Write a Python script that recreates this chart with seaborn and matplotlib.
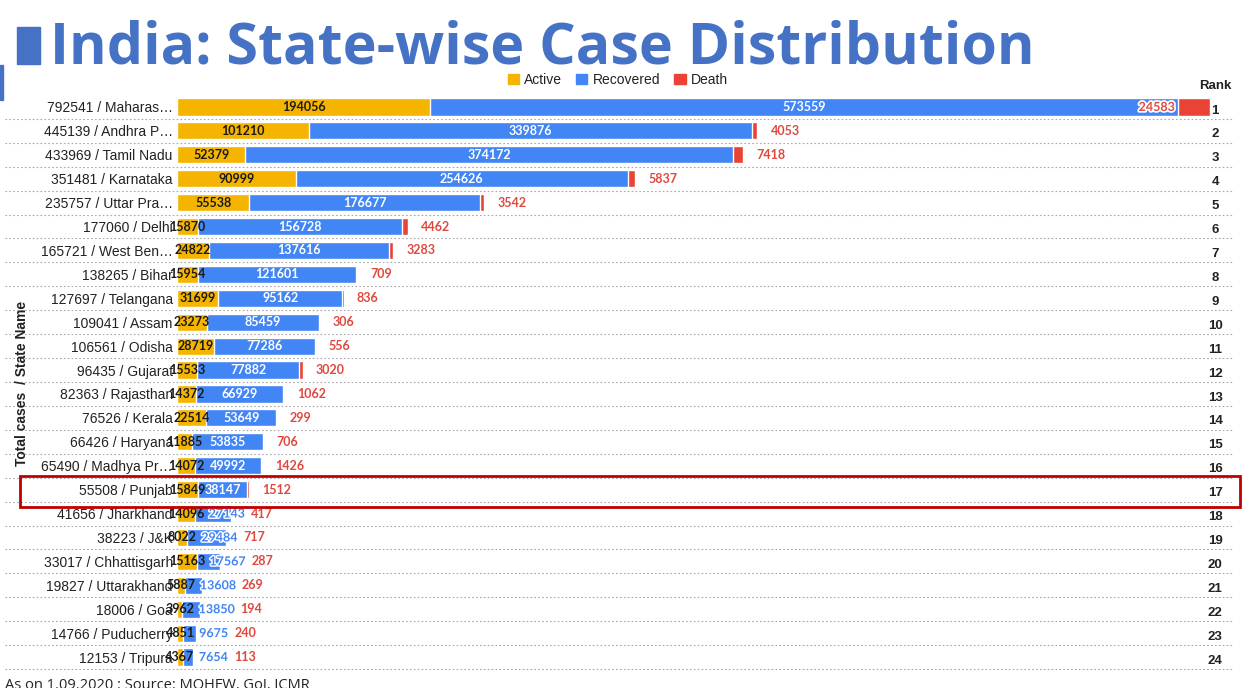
import matplotlib
matplotlib.use("Agg")
import matplotlib.pyplot as plt
import matplotlib.patheffects as pe
import seaborn as sns
import pandas as pd
from matplotlib.patches import Patch, Rectangle

# values (as on 1.09.2020)
ranks = list(range(1, 25))
total_cases = [792541, 445139, 433969, 351481, 235757, 177060, 165721, 138265,
               127697, 109041, 106561, 96435, 82363, 76526, 66426, 65490,
               55508, 41656, 38223, 33017, 19827, 18006, 14766, 12153]
state_names = ["Maharas\u2026", "Andhra P\u2026", "Tamil Nadu", "Karnataka",
               "Uttar Pra\u2026", "Delhi", "West Ben\u2026", "Bihar",
               "Telangana", "Assam", "Odisha", "Gujarat", "Rajasthan",
               "Kerala", "Haryana", "Madhya Pr\u2026", "Punjab", "Jharkhand",
               "J&K", "Chhattisgarh", "Uttarakhand", "Goa", "Puducherry",
               "Tripura"]
active = [194056, 101210, 52379, 90999, 55538, 15870, 24822, 15954, 31699,
          23273, 28719, 15533, 14372, 22514, 11885, 14072, 15849, 14096,
          8022, 15163, 5887, 3962, 4851, 4367]
recovered = [573559, 339876, 374172, 254626, 176677, 156728, 137616, 121601,
             95162, 85459, 77286, 77882, 66929, 53649, 53835, 49992, 38147,
             27143, 29484, 17567, 13608, 13850, 9675, 7654]
deaths = [24583, 4053, 7418, 5837, 3542, 4462, 3283, 709, 836, 306, 556,
          3020, 1062, 299, 706, 1426, 1512, 417, 717, 287, 269, 194, 240, 113]
highlight_state = "Punjab"

YELLOW = "#F4B400"
BLUE = "#4285F4"
RED = "#EA4335"
TITLE_BLUE = "#4672C6"
DEATH_TXT = "#E0483E"

df = pd.DataFrame({"total": total_cases, "state": state_names, "active": active,
                   "recovered": recovered, "deaths": deaths, "rank": ranks})
df["label"] = df["total"].astype(str) + " / " + df["state"]
df["act_rec"] = df["active"] + df["recovered"]
df["all"] = df["act_rec"] + df["deaths"]

W, H = 1249, 688
sns.set_theme(style="white")
plt.rcParams["font.family"] = ["Liberation Sans", "DejaVu Sans"]

fig = plt.figure(figsize=(W / 100, H / 100), dpi=100)
ax_left, ax_right, ax_top, ax_bot = 177, 1230, 95, 669
ax = fig.add_axes([ax_left / W, 1 - ax_bot / H, (ax_right - ax_left) / W,
                   (ax_bot - ax_top) / H])

# stacked bars: draw cumulative totals back to front
for col, c in [("all", RED), ("act_rec", BLUE), ("active", YELLOW)]:
    sns.barplot(data=df, y="label", x=col, color=c, saturation=1, width=0.72,
                errorbar=None, orient="h", ax=ax)

XMAX = 807500
ax.set_xlim(0, XMAX)
ax.set_ylim(23.5, -0.5)
px = (ax_right - ax_left) / XMAX  # pixels per case
sns.despine(ax=ax, left=True, bottom=True)
ax.set_xticks([])
ax.set_xlabel("")
ax.set_ylabel("")
ax.tick_params(axis="y", length=0, pad=3, labelsize=10, labelcolor="#222222")

# dotted row separators across the full width
ax.hlines([i + 0.5 for i in range(len(df))], -0.163, 1.003,
          transform=ax.get_yaxis_transform(), colors="#A8A8A8",
          linestyles=(0, (1.5, 2)), linewidth=0.8, clip_on=False, zorder=0)

lab = dict(fontsize=9, fontweight="bold", family=["Lato", "DejaVu Sans"],
           va="center")
digit_px = 7.0
for i, row in df.iterrows():
    a, r, d = row["active"], row["recovered"], row["deaths"]
    a_w = len(str(a)) * digit_px
    ax.text(a / 2, i, str(a), ha="center", color="#1a1a1a", **lab)
    r_w = len(str(r)) * digit_px
    if r * px > 45:
        ax.text(a + r / 2, i, str(r), ha="center", color="white", **lab)
        r_right = (a + r / 2) * px + r_w / 2
    else:
        r_left = max(a * px / 2 + a_w / 2 + 5, a * px + 3)
        ax.text(r_left / px, i, str(r), ha="left", color=BLUE,
                path_effects=[pe.withStroke(linewidth=2, foreground="white")],
                **lab)
        r_right = r_left + r_w
    end_px = (a + r + d) * px
    if end_px + 60 > ax_right - ax_left:
        ax.text(a + r - 3 / px, i, str(d), ha="right", color=DEATH_TXT,
                path_effects=[pe.withStroke(linewidth=2.5, foreground="white")],
                **lab)
    else:
        d_left = max(end_px + 13, r_right + 7)
        ax.text(d_left / px, i, str(d), ha="left", color=DEATH_TXT, **lab)
    ax.text(0.986, i + 0.15, str(row["rank"]), transform=ax.get_yaxis_transform(),
            ha="center", va="center", fontsize=9.5, fontweight="bold",
            color="#222222")

ax.text(0.986, -0.88, "Rank", transform=ax.get_yaxis_transform(), ha="center",
        va="center", fontsize=9.5, fontweight="bold", color="#222222")

# highlight box around the selected state
hi = df.index[df["state"] == highlight_state][0]
fig.patches.append(Rectangle((20 / W, 1 - 507 / H), 1220 / W, 31 / H,
                             transform=fig.transFigure, fill=False,
                             edgecolor="#C00000", linewidth=2))

fig.legend(handles=[Patch(color=YELLOW, label="Active"),
                    Patch(color=BLUE, label="Recovered"),
                    Patch(color=RED, label="Death")],
           loc="center", bbox_to_anchor=(618 / W, 1 - 80 / H), ncol=3,
           frameon=False, fontsize=10, handlelength=0.8, handleheight=0.8,
           columnspacing=1.0, handletextpad=0.4, labelcolor="#222222")

fig.text(22 / W, 1 - 383 / H, "Total cases  / State Name", rotation=90,
         ha="center", va="center", fontsize=10, fontweight="bold",
         color="#222222")

# title block
fig.patches.append(Rectangle((17 / W, 1 - 64 / H), 23 / W, 37 / H,
                             transform=fig.transFigure, color=TITLE_BLUE))
fig.patches.append(Rectangle((0, 1 - 100 / H), 3 / W, 35 / H,
                             transform=fig.transFigure, color=TITLE_BLUE))
fig.text(50 / W, 1 - 64 / H, "India: State-wise Case Distribution",
         fontsize=41.3, fontweight="bold", color=TITLE_BLUE,
         family=["Open Sans", "DejaVu Sans"], va="baseline", ha="left")

fig.text(5 / W, 1 - 678 / H, "As on 1.09.2020 : Source: MOHFW, GoI, ICMR",
         fontsize=10.5, va="top", ha="left", color="#222222",
         family=["Open Sans", "DejaVu Sans"])

fig.savefig("out.png", dpi=100)
